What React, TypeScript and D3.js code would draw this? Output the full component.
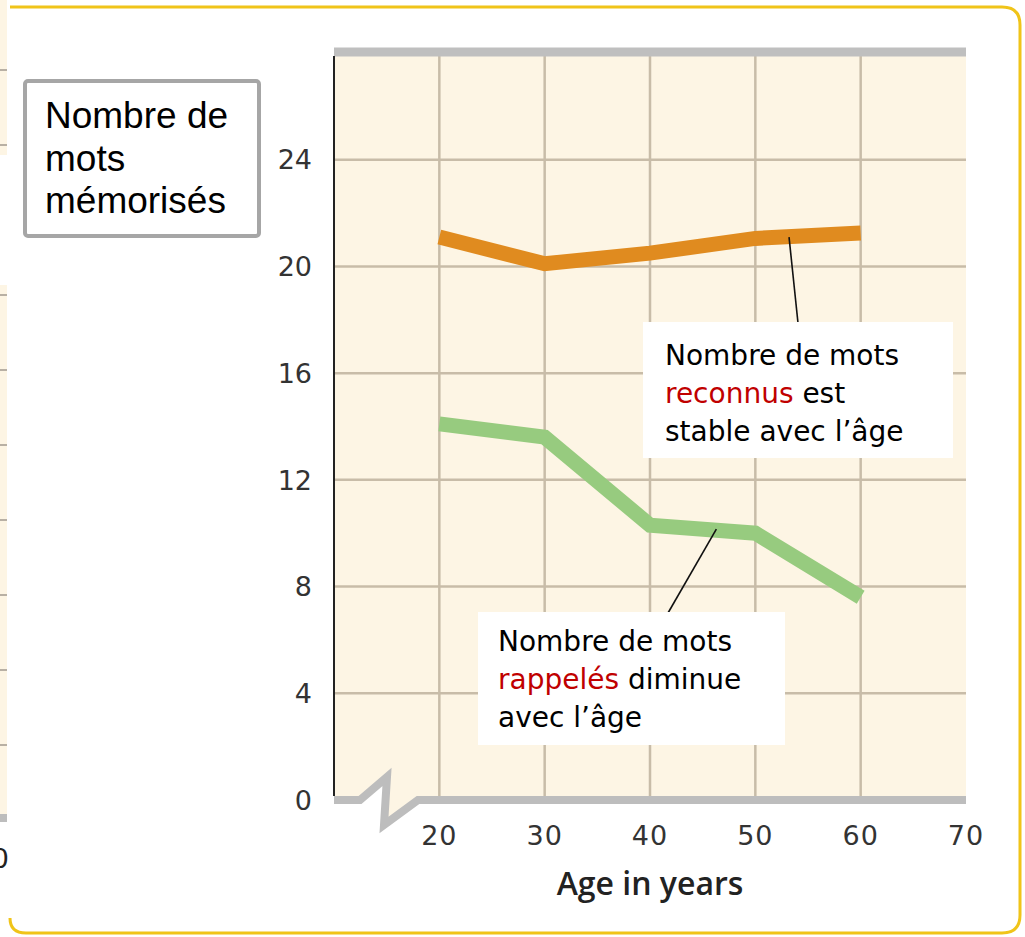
import React from "react";
import * as d3 from "d3";

// values
const ages = [20, 30, 40, 50, 60];
const reconnus = [21.1, 20.1, 20.5, 21.05, 21.25];
const rappeles = [14.1, 13.6, 10.3, 10.0, 7.6];
const yTicks = [0, 4, 8, 12, 16, 20, 24];
const xTicks = [20, 30, 40, 50, 60, 70];
const yLabelLines = ["Nombre de", "mots", "mémorisés"];

const W = 1025;
const H = 937;

function App() {
  const x = d3.scaleLinear().domain([10, 70]).range([334, 966]);
  const y = d3.scaleLinear().domain([0, 28]).range([800, 53]);

  const line = d3
    .line<number>()
    .x((_, i) => x(ages[i]))
    .y((d) => y(d));

  // bottom axis with the break near the origin
  const x0 = x(10);
  const y0 = y(0);
  const breakPts: [number, number][] = [
    [x0, y0],
    [x0 + 26, y0],
    [x0 + 53, y0 - 23],
    [x0 + 50, y0 + 25],
    [x0 + 84, y0],
    [x(70), y0],
  ];
  const axisPath = d3.line()(breakPts) || "";
  const bgPath =
    d3.line()([...breakPts, [x(70), y(28)], [x0, y(28)]]) + "Z";

  // left strip: edge of a neighbouring chart
  const strip = d3.scaleLinear().domain([0, 10]).range([820, 70]);
  const stripTicks = d3.range(1, 11).filter((t) => t !== 8);

  const grid = "#c8bca8";
  const tickFont = "'DejaVu Sans', Verdana, sans-serif";
  const noteFont = "'DejaVu Sans', Tahoma, sans-serif";

  return (
    <svg
      width={W}
      height={H}
      style={{ position: "absolute", left: 0, top: 0, background: "#fff" }}
    >
      {/* left strip */}
      <rect x={0} y={0} width={7} height={155} fill="#fdf5e4" />
      <rect x={0} y={285} width={7} height={strip(0) - 285} fill="#fdf5e4" />
      {stripTicks.map((t) => (
        <line key={t} x1={0} x2={7} y1={strip(t)} y2={strip(t)} stroke="#b8b0a4" strokeWidth={2} />
      ))}
      <rect x={0} y={strip(0) - 6} width={7} height={8} fill="#bdbdbd" />
      <text x={9} y={868} textAnchor="end" fontFamily={tickFont} fontSize={27} fill="#222">
        0
      </text>

      {/* yellow frame */}
      <path
        d="M10,7 H1002 Q1020,7 1020,25 V915 Q1020,933 1002,933 H26 Q10,933 10,918"
        fill="none"
        stroke="#f0c419"
        strokeWidth={3}
      />

      {/* plot background */}
      <path d={bgPath} fill="#fdf5e4" />

      {/* grid */}
      {yTicks.filter((t) => t > 0).map((t) => (
        <line key={t} x1={x0} x2={x(70)} y1={y(t)} y2={y(t)} stroke={grid} strokeWidth={2.5} />
      ))}
      {xTicks.filter((t) => t < 70).map((t) => (
        <line key={t} x1={x(t)} x2={x(t)} y1={y(28)} y2={y0} stroke={grid} strokeWidth={2.5} />
      ))}

      {/* top bar and axes */}
      <line x1={x0} x2={x(70)} y1={y(28) - 1} y2={y(28) - 1} stroke="#bfbfbf" strokeWidth={9} />
      <path d={axisPath} fill="none" stroke="#bdbdbd" strokeWidth={8} strokeLinejoin="miter" />
      <line x1={x0} x2={x0} y1={y(28) + 3} y2={y0 - 4} stroke="#222" strokeWidth={2} />

      {/* tick labels */}
      {yTicks.map((t) => (
        <text key={t} x={312} y={y(t)} dy="0.36em" textAnchor="end" fontFamily={tickFont} fontSize={27} fill="#333">
          {t}
        </text>
      ))}
      {xTicks.map((t) => (
        <text key={t} x={x(t)} y={845} textAnchor="middle" fontFamily={tickFont} fontSize={27} fill="#333" letterSpacing={1}>
          {t}
        </text>
      ))}
      <text x={650} y={895} textAnchor="middle" fontFamily="'Open Sans', sans-serif" fontSize={32} fontWeight={600} fill="#222">
        Age in years
      </text>

      {/* data lines */}
      <path d={line(reconnus) || ""} fill="none" stroke="#e08b1f" strokeWidth={15} strokeLinejoin="miter" />
      <path d={line(rappeles) || ""} fill="none" stroke="#97cb7f" strokeWidth={15} strokeLinejoin="miter" />

      {/* y label box */}
      <rect x={25} y={81} width={234} height={155} rx={3} fill="#fff" stroke="#a6a6a6" strokeWidth={4} />
      {yLabelLines.map((s, i) => (
        <text key={s} x={45} y={128 + i * 42.5} fontFamily="'Liberation Sans', Arial, sans-serif" fontSize={37} fill="#000">
          {s}
        </text>
      ))}

      {/* annotation: reconnus */}
      <line x1={x(53.2)} y1={y(21.1)} x2={798} y2={323} stroke="#111" strokeWidth={1.6} />
      <rect x={643} y={322} width={310} height={136} fill="#fff" />
      <text fontFamily={noteFont} fontSize={28} fill="#000">
        <tspan x={665} y={365}>Nombre de mots</tspan>
        <tspan x={665} y={403}>
          <tspan fill="#c00000">reconnus</tspan> est
        </tspan>
        <tspan x={665} y={441}>stable avec l’âge</tspan>
      </text>

      {/* annotation: rappelés */}
      <line x1={x(46.3)} y1={y(10.15)} x2={668} y2={613} stroke="#111" strokeWidth={1.6} />
      <rect x={478} y={612} width={307} height={133} fill="#fff" />
      <text fontFamily={noteFont} fontSize={28} fill="#000">
        <tspan x={498} y={651}>Nombre de mots</tspan>
        <tspan x={498} y={689}>
          <tspan fill="#c00000">rappelés</tspan> diminue
        </tspan>
        <tspan x={498} y={727}>avec l’âge</tspan>
      </text>
    </svg>
  );
}

export default App;
